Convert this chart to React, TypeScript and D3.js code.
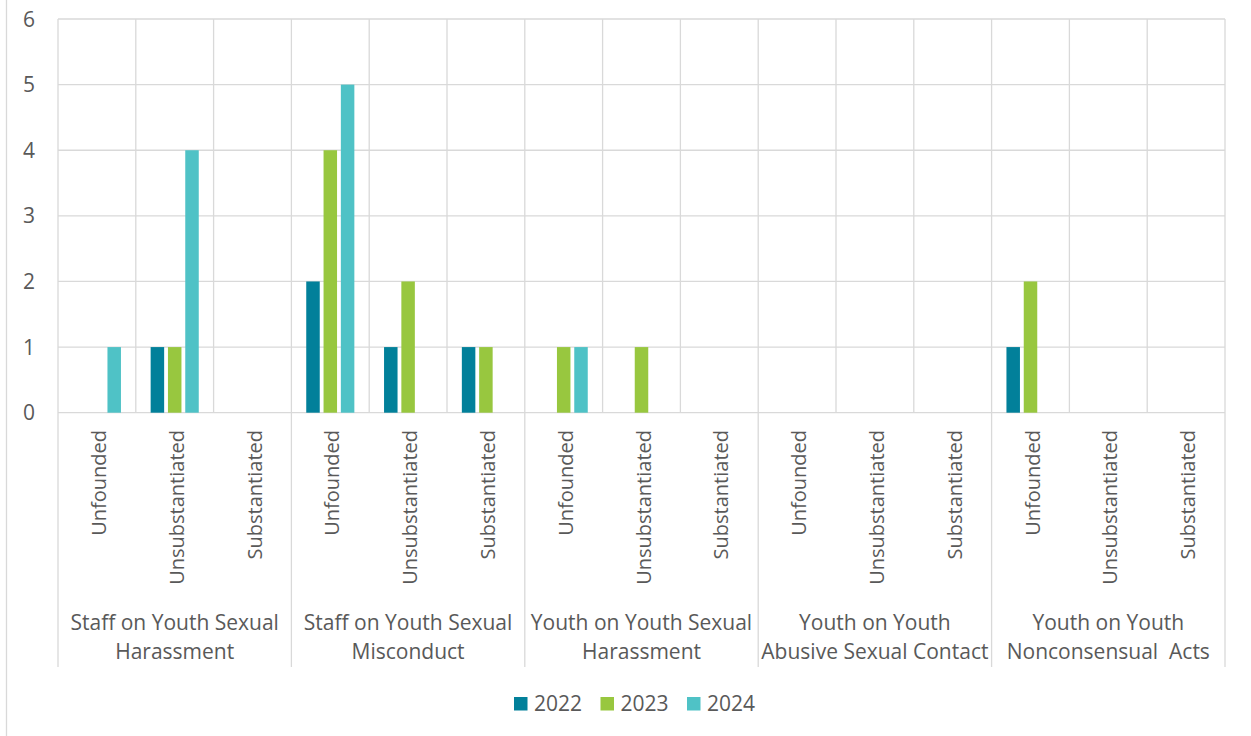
import React from 'react';
import * as d3 from 'd3';

const groups = [
  ['Staff on Youth Sexual', 'Harassment'],
  ['Staff on Youth Sexual', 'Misconduct'],
  ['Youth on Youth Sexual', 'Harassment'],
  ['Youth on Youth', 'Abusive Sexual Contact'],
  ['Youth on Youth', 'Nonconsensual  Acts'],
];
const outcomes = ['Unfounded', 'Unsubstantiated', 'Substantiated'];
const years = ['2022', '2023', '2024'];
const colors = ['#02809A', '#98C73F', '#4FC2C6'];

// one row per group, outcome order as above, values per year
const values2022 = [0, 1, 0, 2, 1, 1, 0, 0, 0, 0, 0, 0, 1, 0, 0];
const values2023 = [0, 1, 0, 4, 2, 1, 1, 1, 0, 0, 0, 0, 2, 0, 0];
const values2024 = [1, 4, 0, 5, 0, 0, 1, 0, 0, 0, 0, 0, 0, 0, 0];
const yTicks = [0, 1, 2, 3, 4, 5, 6];

const W = 1251;
const H = 736;
const margin = {top: 19, right: 26, bottom: 323.3, left: 58};
const font = "'Open Sans', sans-serif";
const textColor = '#595959';
const grid = '#D9D9D9';

export default function App() {
  const series = [values2022, values2023, values2024];
  const cats = d3.range(groups.length * outcomes.length);

  const x = d3.scaleBand<number>()
    .domain(cats)
    .range([margin.left, W - margin.right]);
  const xInner = d3.scaleBand<string>()
    .domain(years)
    .range([0, x.bandwidth()])
    .paddingInner(0.22)
    .paddingOuter(0.858);
  const y = d3.scaleLinear()
    .domain([0, 6])
    .range([H - margin.bottom, margin.top]);

  const bottom = y(0);
  const groupLineEnd = 667;
  const step = x.step();

  return (
    <div style={{position: 'absolute', left: 0, top: 0}}>
      <svg width={W} height={H} style={{display: 'block', background: '#fff'}}>
        {/* chart frame edge */}
        <line x1={6.5} x2={6.5} y1={0} y2={H} stroke={grid} strokeWidth={1.3} />

        {/* horizontal gridlines */}
        {yTicks.map(t => (
          <line key={'h' + t} x1={margin.left} x2={W - margin.right}
            y1={y(t)} y2={y(t)} stroke={grid} strokeWidth={1.3} />
        ))}

        {/* vertical gridlines at category boundaries */}
        {d3.range(cats.length + 1).map(i => {
          const xx = margin.left + i * step;
          const isGroup = i % outcomes.length === 0;
          return (
            <line key={'v' + i} x1={xx} x2={xx} y1={margin.top}
              y2={isGroup ? groupLineEnd : bottom} stroke={grid} strokeWidth={1.3} />
          );
        })}

        {/* bars */}
        {series.map((vals, si) => (
          <g key={'s' + si} fill={colors[si]}>
            {vals.map((v, ci) => v > 0 ? (
              <rect key={ci}
                x={(x(ci) as number) + (xInner(years[si]) as number)}
                y={y(v)}
                width={xInner.bandwidth()}
                height={bottom - y(v)} />
            ) : null)}
          </g>
        ))}

        {/* y axis labels */}
        {yTicks.map(t => (
          <text key={'yl' + t} x={35} y={y(t)} dy="0.36em" textAnchor="end"
            fontFamily={font} fontSize={21} fill={textColor}>{t}</text>
        ))}

        {/* outcome labels (rotated) */}
        {cats.map(ci => {
          const cx = (x(ci) as number) + x.bandwidth() / 2;
          return (
            <text key={'ol' + ci} transform={`translate(${cx + 9},430) rotate(-90)`}
              textAnchor="end" fontFamily={font} fontSize={20} fill={textColor}>
              {outcomes[ci % outcomes.length]}
            </text>
          );
        })}

        {/* group labels */}
        {groups.map((lines, gi) => {
          const gx = margin.left + (gi * outcomes.length + outcomes.length / 2) * step;
          return (
            <text key={'gl' + gi} textAnchor="middle" fontFamily={font} fontSize={21}
              fill={textColor} style={{whiteSpace: 'pre'}}>
              <tspan x={gx} y={630}>{lines[0]}</tspan>
              <tspan x={gx} y={659}>{lines[1]}</tspan>
            </text>
          );
        })}

        {/* legend */}
        {years.map((yr, i) => {
          const lx = 514 + i * 86.5;
          return (
            <g key={'lg' + yr}>
              <rect x={lx} y={697} width={13.5} height={13.5} fill={colors[i]} />
              <text x={lx + 20} y={710.5} fontFamily={font} fontSize={21} fill={textColor}>{yr}</text>
            </g>
          );
        })}
      </svg>
    </div>
  );
}
